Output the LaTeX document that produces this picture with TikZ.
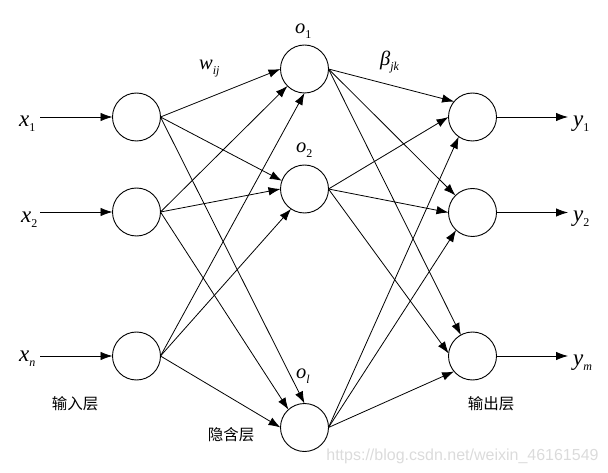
\documentclass[tikz,border=0pt]{standalone}
\usepackage{fontspec}
\setmainfont{Liberation Serif}
\newfontfamily\cjk{Noto Sans CJK SC}
\newfontfamily\wmfont{Liberation Sans}
\usetikzlibrary{arrows.meta}
\newcommand\sublbl[2]{\textit{#1}\raisebox{-5pt}{\fontsize{12}{12}\selectfont #2}}
\begin{document}
\begin{tikzpicture}[x=1pt,y=-1pt,
  neuron/.style={circle,draw,line width=0.9pt,minimum size=48pt,inner sep=0pt,outer sep=0pt},
  conn/.style={line width=0.8pt,-{Latex[length=12pt,width=8.5pt]}},
  varlbl/.style={inner sep=0pt,anchor=base west,font=\fontsize{23}{23}\selectfont},
  hidlbl/.style={inner sep=0pt,anchor=base west,font=\fontsize{20.5}{20.5}\selectfont},
  layerlbl/.style={inner sep=0pt,font=\cjk\fontsize{15.5}{15.5}\selectfont}]
\useasboundingbox (0,0) rectangle (608,473);
% nodes
\node[neuron] (i1) at (136.5,117) {};
\node[neuron] (i2) at (136.5,212) {};
\node[neuron] (in) at (136.5,356) {};
\node[neuron] (h1) at (304.5,69) {};
\node[neuron] (h2) at (304.5,189) {};
\node[neuron] (hl) at (304.5,427.5) {};
\node[neuron] (o1) at (472.5,117) {};
\node[neuron] (o2) at (472.5,212.5) {};
\node[neuron] (om) at (472.5,356) {};
% input / output free ends
\coordinate (xa) at (40,117);
\coordinate (xb) at (40,212);
\coordinate (xc) at (40,356);
\coordinate (ya) at (568,117);
\coordinate (yb) at (568,212.5);
\coordinate (yc) at (568,356);
\draw[conn] (xa) -- (i1.west);
\draw[conn] (xb) -- (i2.west);
\draw[conn] (xc) -- (in.west);
\draw[conn] (o1.east) -- (ya);
\draw[conn] (o2.east) -- (yb);
\draw[conn] (om.east) -- (yc);
% input -> hidden
\draw[conn] (i1.east) -- (h1.180);
\draw[conn] (i2.east) -- (h1.225);
\draw[conn] (in.east) -- (h1.270);
\draw[conn] (i1.east) -- (h2.160);
\draw[conn] (i2.east) -- (h2.180);
\draw[conn] (in.east) -- (h2.236);
\draw[conn] (i1.east) -- (hl.90);
\draw[conn] (i2.east) -- (hl.132);
\draw[conn] (in.east) -- (hl.180);
% hidden -> output
\draw[conn] (h1.east) -- (o1.140);
\draw[conn] (h2.east) -- (o1.180);
\draw[conn] (hl.east) -- (o1.235);
\draw[conn] (h1.east) -- (o2.135);
\draw[conn] (h2.east) -- (o2.180);
\draw[conn] (hl.east) -- (o2.227);
\draw[conn] (h1.east) -- (om.119);
\draw[conn] (h2.east) -- (om.174);
\draw[conn] (hl.east) -- (om.220);
% labels
\node[varlbl] (lx1) at (19,127) {\sublbl{x}{1}};
\node[varlbl] (lx2) at (21,223) {\sublbl{x}{2}};
\node[varlbl] (lxn) at (19,361) {\sublbl{x}{\textit{n}}};
\node[varlbl] (ly1) at (573,127) {\sublbl{y}{1}};
\node[varlbl] (ly2) at (573,222) {\sublbl{y}{2}};
\node[varlbl] (lym) at (573,365) {\sublbl{y}{\textit{m}}};
\node[hidlbl] (lo1) at (295,34) {\sublbl{o}{1}};
\node[hidlbl] (lo2) at (296,153) {\sublbl{o}{2}};
\node[hidlbl] (lol) at (296,378) {\sublbl{o}{\textit{l}}};
\node[hidlbl] (lw) at (199,70) {\sublbl{w}{\textit{ij}}};
\node[hidlbl] (lb) at (380,66) {\sublbl{β}{\textit{jk}}};
\node[layerlbl] (Lin) at (75,403.5) {输入层};
\node[layerlbl] (Lhid) at (231,434.5) {隐含层};
\node[layerlbl] (Lout) at (491,403.5) {输出层};
\node[inner sep=0pt,text=black!14,font=\wmfont\fontsize{16}{16}\selectfont] (wm) at (462.5,456) {https://blog.csdn.net/weixin\_46161549};
\end{tikzpicture}
\end{document}
